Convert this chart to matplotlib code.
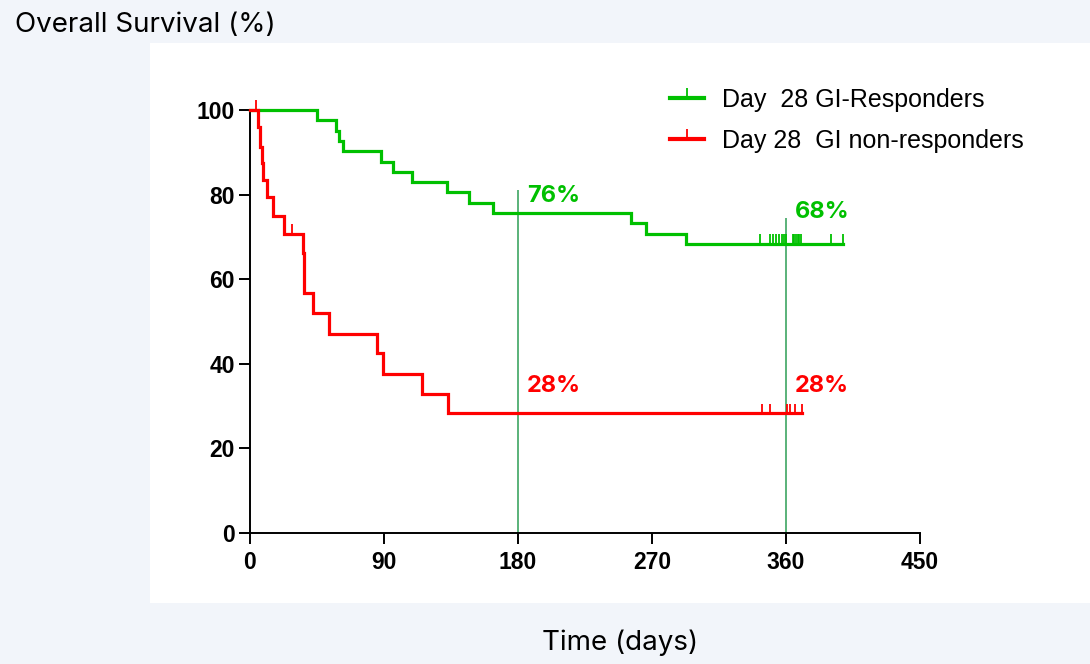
import numpy as np
import matplotlib.pyplot as plt
from matplotlib.lines import Line2D
from matplotlib.patches import Rectangle

# krzywe Kaplana-Meiera
green_t = [0, 45, 58, 59.5, 62.5, 88, 96, 109, 132, 147, 163, 256, 266, 293]
green_s = [100, 97.6, 95.1, 92.7, 90.2, 87.8, 85.4, 82.9, 80.5, 78.0, 75.6, 73.2, 70.7, 68.3]
green_end = 398.5
green_cens = [342.5, 349, 351.5, 353.5, 355.5, 357, 358.5, 360, 364.5, 365.5,
              366.5, 368, 369, 370, 390.5, 398.5]

red_t = [0, 5.6, 6.7, 7.8, 9, 11.2, 15.7, 23, 35.8, 36.5, 42.5, 53, 85.5, 89, 115.3, 133.2]
red_s = [100, 96.0, 91.3, 87.4, 83.5, 79.4, 75.0, 70.7, 66.1, 56.7, 51.9, 47.0, 42.5, 37.6, 32.9, 28.3]
red_end = 370.5
red_cens = [4, 28, 344, 349, 360.5, 362.5, 366, 370.5]

ref_days = [180, 360]
ref_tops = [81, 74.5]
green_pct = ['76%', '68%']
red_pct = ['28%', '28%']
x_ticks = [0, 90, 180, 270, 360, 450]
y_ticks = [0, 20, 40, 60, 80, 100]
labels = ['Day  28 GI-Responders', 'Day 28  GI non-responders']

GREEN = '#00C000'
RED = '#FF0000'
REFC = '#2E9E55'
BG = '#F2F5FA'


def surv_at(t, times, vals):
    i = np.searchsorted(times, t, side='right') - 1
    return vals[i]


fig = plt.figure(figsize=(10.9, 6.64), dpi=100, facecolor=BG)
fig.patches.append(Rectangle((150/1090, 61/664), 940/1090, 560/664,
                             transform=fig.transFigure, facecolor='white',
                             edgecolor='none', zorder=-5))

ax = fig.add_axes([250/1090, 131/664, 670/1090, 423/664])
ax.set_facecolor('none')

# linie pomocnicze
for d, top in zip(ref_days, ref_tops):
    ax.vlines(d, 0, top, color=REFC, lw=1.1, zorder=1)

# krzywe
for t, s, end, cens, col in [(green_t, green_s, green_end, green_cens, GREEN),
                             (red_t, red_s, red_end, red_cens, RED)]:
    ax.step(t + [end], s + [s[-1]], where='post', color=col, lw=2.3,
            zorder=3, clip_on=False, solid_joinstyle='miter')
    cy = [surv_at(c, t, s) for c in cens]
    ax.vlines(cens, cy, np.array(cy) + 2.3, color=col, lw=1.3, zorder=3,
              clip_on=False)

# etykiety procentowe
for d, txt, yy in zip(ref_days, green_pct, [79.7, 75.9]):
    ax.text(d + 6, yy, txt, color=GREEN, fontsize=17, fontweight='bold',
            family='Inter', va='center')
for d, txt in zip(ref_days, red_pct):
    ax.text(d + 6, 34.8, txt, color=RED, fontsize=17, fontweight='bold',
            family='Inter', va='center')

ax.set_xlim(0, 450)
ax.set_ylim(0, 100)
ax.set_xticks(x_ticks)
ax.set_yticks(y_ticks)
for sp in ['top', 'right']:
    ax.spines[sp].set_visible(False)
for sp in ['left', 'bottom']:
    ax.spines[sp].set_linewidth(1.4)
ax.tick_params(length=8, width=1.4, labelsize=16.5)
ax.tick_params(axis='x', pad=5)
ax.tick_params(axis='y', pad=3)
for lab in ax.get_xticklabels() + ax.get_yticklabels():
    lab.set_fontweight('bold')
    lab.set_family('Liberation Sans')

# legenda
handles = [Line2D([0], [0], color=c, lw=3, marker=[(0, 0), (0, 1)],
                  markersize=14, markeredgewidth=1.3, markeredgecolor=c)
           for c in [GREEN, RED]]
fig.legend(handles, labels, loc='upper left',
           bbox_to_anchor=(670/1090, 1 - 88/664), frameon=False,
           prop={'family': 'Liberation Sans', 'size': 18}, handlelength=1.35,
           handletextpad=0.75, labelspacing=0.68, borderpad=0, borderaxespad=0,
           numpoints=1)

fig.text(15/1090, 1 - 25/664, 'Overall Survival (%)', fontsize=20,
         family='Inter', va='center', ha='left')
fig.text(620/1090, 1 - 643/664, 'Time (days)', fontsize=20,
         family='Inter', va='center', ha='center')

plt.savefig('out.png', dpi=100, facecolor=BG)
